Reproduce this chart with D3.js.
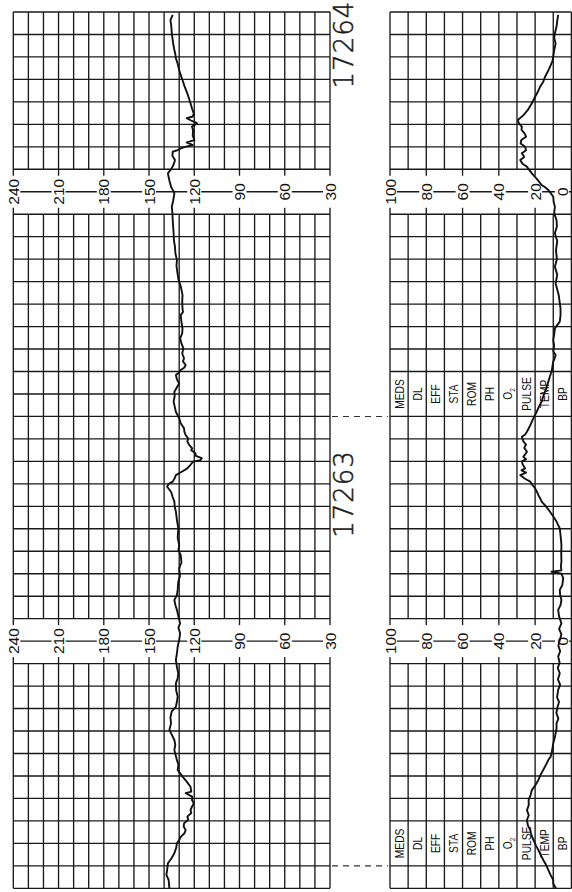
<!DOCTYPE html>
<html><head><meta charset="utf-8">
<script src="https://cdn.jsdelivr.net/npm/d3@7"></script>
<style>html,body{margin:0;padding:0;background:#fff}svg{display:block}</style>
</head><body>
<svg id="chart" width="572" height="892"></svg>
<script>
// ---------- data (time in grid minutes from the bottom of the strip) ----------
const fhrTime = [0,0.37,0.6,0.81,1.11,1.35,1.56,1.8,2.0,2.15,
 2.29,2.45,2.59,2.75,2.89,3.05,3.19,3.35,3.48,3.63,
 3.78,3.93,4.08,4.23,4.3,4.52,4.75,4.97,5.27,5.5,
 5.71,5.95,6.15,6.4,6.6,6.85,7.05,7.34,7.6,7.86,
 8.08,8.3,8.53,8.8,9.12,9.35,9.57,9.85,10.16,10.45,
 10.75,11.05,11.35,11.6,11.79,12.1,12.39,12.6,12.83,13.05,
 13.28,13.64,13.9,14.24,14.5,14.83,15.05,15.28,15.6,16.02,
 16.4,16.76,17.0,17.21,17.45,17.65,17.87,18.0,18.1,18.25,
 18.39,18.55,18.69,18.85,18.99,19.05,19.14,19.25,19.36,19.5,
 19.58,19.75,19.88,20.02,20.17,20.3,20.47,20.7,20.92,21.05,
 21.21,21.45,21.66,21.9,22.1,22.3,22.47,22.65,22.84,22.95,
 23.07,23.18,23.29,23.45,23.59,23.8,24.03,24.25,24.48,24.7,
 24.92,25.2,25.51,25.65,25.81,26.1,26.41,26.77,27.1,27.37,
 27.7,27.96,28.25,28.55,28.85,29.15,29.45,29.74,30.05,30.33,
 30.6,30.93,31.05,31.22,31.5,31.82,31.95,32.12,32.25,32.41,
 32.6,32.78,32.85,32.93,33.0,33.08,33.2,33.3,33.5,33.75,
 33.9,34.05,34.15,34.27,34.35,34.49,34.7,34.94,35.15,35.38,
 35.7,35.97,36.2,36.42,36.7,36.94,37.1,37.31,37.6,38.05,
 38.35,38.64,38.87];
const fhrValues = [136.5,137,138.5,138,137.5,135,133.2,132,131.5,130,
 129,126.5,125.7,127,126.8,124,124.6,122,122.5,121.5,
 120.3,121.5,121.4,125.7,122,122.5,125,127.8,131,130.5,
 131.5,132.5,133.2,132.6,133.2,135,136.5,135.4,135.8,135,
 132.2,131.5,131,132,132.2,131,130.6,131.5,132.2,131.5,
 131,130,129.4,130.5,129.4,130.5,131.5,132.5,133.2,131.5,
 131,130.6,129.5,130,128.5,129,130.5,130,131,130.6,
 131.5,132.2,133,133.2,134.5,135.4,138,137,134.3,133,
 132.2,128,124.6,122.5,120.8,116,115,119,119.2,122,
 121.4,123.5,124.6,124,125.7,126.5,126.8,129,130,131,
 132.2,133,133.7,133,133.2,131.5,130,131.5,132.2,130,
 129,126.5,125.7,127.5,126.8,128,127.2,128.5,129.4,128,
 127.8,128.5,129,127.5,127.8,128,127.8,128.9,130.5,131.1,
 131.8,131.5,132.5,132.8,133.5,133.7,134,134.3,134.5,134.9,
 134,133.2,134,135.4,136.5,137.5,136,134.3,133.5,132.8,
 134.5,134.3,131,129,126,121,125,119.9,121,120.8,
 121.5,118.2,121.5,125,121,120.3,121.5,122.5,123.5,124.6,
 126.5,127.8,129,130,131,132.2,132.5,133.2,134,134.9,
 135.2,135.8,134.3];

const uaTime = [0,0.2,0.37,0.6,0.81,1.05,1.26,1.5,1.7,1.9,
 2.15,2.35,2.59,2.8,3.04,3.25,3.48,3.7,3.93,4.15,
 4.37,4.6,4.82,5.05,5.27,5.5,5.71,5.85,6.01,6.2,
 6.45,6.7,6.9,7.1,7.34,7.55,7.8,8.08,8.3,8.5,
 8.83,9.05,9.3,9.57,9.8,10.05,10.31,10.55,10.8,11.05,
 11.3,11.55,11.79,12.1,12.39,12.6,12.83,13.05,13.28,13.5,
 13.8,14.0,14.09,14.15,14.35,14.54,14.9,15.28,15.65,16.02,
 16.15,16.32,16.55,16.76,17.0,17.21,17.35,17.5,17.65,17.8,
 17.95,18.1,18.25,18.39,18.5,18.6,18.69,18.85,18.99,19.1,
 19.2,19.43,19.6,19.75,19.88,20.1,20.2,20.32,20.55,20.77,
 21.0,21.21,21.45,21.66,21.9,22.1,22.35,22.55,22.8,22.99,
 23.2,23.44,23.6,23.73,23.9,24.15,24.4,24.65,24.92,25.1,
 25.22,25.5,25.81,26.1,26.41,26.92,27.3,27.66,28.0,28.4,
 28.8,29.15,29.45,29.74,30.05,30.33,30.55,30.78,30.95,31.08,
 31.2,31.3,31.52,31.82,32.11,32.25,32.41,32.55,32.71,32.85,
 33.0,33.15,33.3,33.45,33.6,33.75,33.89,34.05,34.19,34.41,
 34.64,34.94,35.23,35.45,35.67,35.9,36.12,36.35,36.56,36.8,
 37.01,37.3,37.6,37.85,38.05,38.35,38.6,38.87];
const uaValues = [8.5,10,10,11.5,12.7,14,15.5,17,18.2,19.5,
 20.9,22,22.7,24,24.5,23.5,24.5,23.5,23.6,22.5,
 21.8,19.8,18.2,17,15.5,14,12.7,11.5,10.9,10.5,
 10,9.2,8.7,8.2,8.2,7.2,8.3,7.6,6.8,7.9,
 7.3,6.2,7.4,6.4,7.5,6.5,7.3,6.2,7.2,6.4,
 5.5,6.8,5.5,6.8,7.3,6,5.5,6.2,6.4,5,
 4.5,5.5,11,5.5,5.8,5.5,5.6,5.5,5.9,6.4,
 7.2,8.2,10,11.8,14,16.4,17.2,18.2,19,20,
 21.5,22.7,26,28.2,25,27.5,25.5,26.8,27.3,25,
 26.5,24.5,26,25,26.4,27.3,25.5,24.5,23,21.8,
 20.5,19.1,17.8,16.4,15.5,14.5,13.5,12.7,11.8,10.9,
 10.5,10,9.2,8.7,10,9.5,10,9.5,9.1,7.5,
 6.4,6,6,6.5,7,8.7,7.8,9.1,8,8.5,
 7.8,9.1,8,8.2,9.5,9.1,9.8,10,11.5,12.7,
 14.5,16.4,18.5,21.8,24.5,27,28.2,26,27.3,25,
 25.5,28,27.6,25,25.8,27.5,27.3,29,29.5,26.4,
 24,21.8,20,18.5,17.3,15.5,14.5,13,11.8,10.5,
 10,9.5,8.7,9.5,9.1,8.2,7.8,7.3];

const fhrTicks = [240, 210, 180, 150, 120, 90, 60, 30];
const uaTicks = [100, 80, 60, 40, 20, 0];
const annotationLabels = ["MEDS", "DL", "EFF", "STA", "ROM", "PH", "O2", "PULSE", "TEMP", "BP"];
const pageLabels = ["17263", "17264"];
const pageStarts = [1, 21];

// ---------- layout ----------
const W = 572, H = 892;
const svg = d3.select("#chart");
const g = svg.append("g").attr("transform", `translate(0,${H}) rotate(-90)`);

const tScale = d3.scaleLinear().domain([0, 39]).range([3.7, 880]);
const fhrScale = d3.scaleLinear().domain([30, 240]).range([330, 13.3]);
const uaScale = d3.scaleLinear().domain([0, 100]).range([571.4, 390]);

const scaleRows = pageStarts.map(p => p + 10);   // rows holding the axis numbers
const labelRows = pageStarts.map(p => p + 1);    // rows holding the annotation labels
const GRID = "#1a1a1a";

function segmentsExcluding(zones) {
  const segs = [];
  let start = 0;
  zones.slice().sort((a, b) => a - b).forEach(c => { segs.push([start, c - 1]); start = c + 1; });
  segs.push([start, 39]);
  return segs;
}

function drawPanel(scale, vmin, vmax, ticks, skipTimeLines) {
  const grid = g.append("g").attr("stroke", GRID).attr("stroke-width", 1.35).attr("fill", "none");
  d3.range(0, 40).filter(t => !skipTimeLines.includes(t)).forEach(t => {
    grid.append("line").attr("x1", tScale(t)).attr("x2", tScale(t))
      .attr("y1", scale(vmax)).attr("y2", scale(vmin));
  });
  const segs = segmentsExcluding(scaleRows);
  d3.range(vmin, vmax + 1, 10).forEach(v => {
    const parts = ticks.includes(v) ? [[0, 39]] : segs;
    parts.forEach(([a, b]) => {
      grid.append("line").attr("x1", tScale(a)).attr("x2", tScale(b))
        .attr("y1", scale(v)).attr("y2", scale(v));
    });
  });
  // axis numbers with white backing
  scaleRows.forEach(r => {
    ticks.forEach(v => {
      // keep a label on the page edge fully inside the picture
      const vc = Math.min(scale(v), W - 10);
      g.append("rect").attr("x", tScale(r) - 16).attr("y", vc - 7)
        .attr("width", 32).attr("height", 14).attr("fill", "#fff");
      g.append("text").attr("x", tScale(r)).attr("y", vc).attr("dy", "0.36em")
        .attr("text-anchor", "middle").attr("font-family", "Liberation Sans, Arial, sans-serif")
        .attr("font-size", 15.5).attr("fill", "#111").text(v);
    });
  });
}

drawPanel(fhrScale, 30, 240, fhrTicks, []);
drawPanel(uaScale, 0, 100, uaTicks, labelRows);

// annotation labels in the contraction panel
labelRows.forEach(r => {
  annotationLabels.forEach((lab, i) => {
    const vc = uaScale(100 - i * 10 - 5);
    const t = g.append("text")
      .attr("transform", `translate(${tScale(r)},${vc}) scale(0.82,1)`)
      .attr("dy", "0.36em").attr("text-anchor", "middle")
      .attr("font-family", "Liberation Sans, Arial, sans-serif")
      .attr("font-size", 12.5).attr("fill", "#111");
    if (lab === "O2") {
      t.append("tspan").text("O");
      t.append("tspan").attr("font-size", 8).attr("dy", "0.3em").text("2");
    } else t.text(lab);
  });
});

// page boundary dashes and page numbers
pageStarts.forEach((p, i) => {
  g.append("line").attr("x1", tScale(p)).attr("x2", tScale(p))
    .attr("y1", fhrScale(30) + 2).attr("y2", uaScale(100) - 2)
    .attr("stroke", "#333").attr("stroke-width", 1.1).attr("stroke-dasharray", "6,5");
  g.append("text").attr("x", tScale(p + 16.55)).attr("y", 353)
    .attr("text-anchor", "middle").attr("font-family", "DejaVu Sans, sans-serif")
    .attr("font-weight", 200).attr("font-size", 26).attr("fill", "#1a1a1a")
    .attr("stroke", "#1a1a1a").attr("stroke-width", 0.5)
    .attr("letter-spacing", 1).text(pageLabels[i]);
});

// traces
const fhrData = fhrTime.map((t, i) => ({ t, v: fhrValues[i] }));
const uaData = uaTime.map((t, i) => ({ t, v: uaValues[i] }));
g.append("path").datum(fhrData)
  .attr("d", d3.line().x(d => tScale(d.t)).y(d => fhrScale(d.v)))
  .attr("fill", "none").attr("stroke", "#111").attr("stroke-width", 1.9)
  .attr("stroke-linejoin", "round");
g.append("path").datum(uaData)
  .attr("d", d3.line().x(d => tScale(d.t)).y(d => uaScale(d.v)))
  .attr("fill", "none").attr("stroke", "#111").attr("stroke-width", 1.9)
  .attr("stroke-linejoin", "round");
</script>
</body></html>
